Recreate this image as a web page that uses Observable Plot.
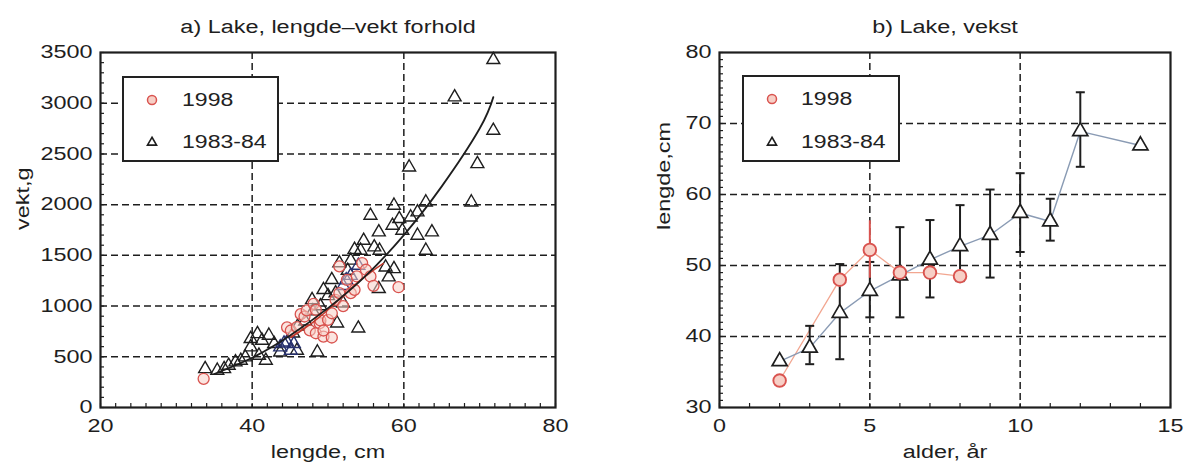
<!DOCTYPE html>
<html>
<head>
<meta charset="utf-8">
<script src="https://cdn.jsdelivr.net/npm/d3@7"></script>
<script src="https://cdn.jsdelivr.net/npm/@observablehq/plot@0.6"></script>
<style>
  body { margin: 0; background: #fff; }
  #wrap { position: relative; width: 1186px; height: 470px; font-family: "Liberation Sans", Arial, sans-serif; color: #222; overflow: hidden; }
  .panel { position: absolute; top: 0; }
  .legend { position: absolute; border: 2px solid #222; background: #fff; box-sizing: border-box; }
  .legend .row { position: absolute; left: 0; height: 24px; width: 100%; }
  .legend svg { position: absolute; top: 0; }
  .legend span { position: absolute; font-size: 18px; line-height: 24px; top: 0; transform: scaleX(1.28); transform-origin: left center; white-space: nowrap; }
</style>
</head>
<body>
<div id="wrap"></div>
<script>
// ---------- Panel a) length–weight ----------
const titleA = "a) Lake, lengde\u2013vekt forhold";
const xLabelA = "lengde, cm";
const yLabelA = "vekt,g";
const xTicksA = [20, 40, 60, 80];
const yTicksA = [0, 500, 1000, 1500, 2000, 2500, 3000, 3500];
const xGridA = [40, 60];
const yGridA = [500, 1000, 1500, 2000, 2500, 3000];

// 1998 (circles): length cm, weight g
const len98 = [33.6, 44.6, 45.1, 45.9, 46.4, 46.9, 47.2, 47.6, 48.1, 48.4, 48.4, 48.9, 49.0, 49.4, 49.4, 50.0, 50.5, 50.5, 51.0, 51.5, 51.5, 52.0, 52.5, 53.0, 53.5, 53.8, 54.5, 55.0, 55.6, 56.0, 59.3];
const wt98  = [283, 790, 759, 792, 920, 897, 957, 760, 1022, 962, 732, 831, 858, 699, 759, 864, 929, 690, 1061, 1127, 1391, 1000, 1259, 1127, 1160, 1292, 1424, 1358, 1292, 1200, 1186];

// 1983-84 (triangles, black)
const len8384 = [33.8, 35.4, 36.3, 36.9, 37.8, 38.5, 39.1, 39.8, 39.8, 40.7, 40.9, 41.3, 41.8, 42.2, 42.9, 43.7, 45.4, 45.9, 46.0, 47.0, 47.9, 48.0, 48.6, 49.0, 49.4, 50.0, 50.5, 51.0, 51.2, 51.5, 52.0, 52.6, 53.0, 53.5, 54.0, 54.3, 54.7, 55.6, 56.1, 56.7, 56.7, 56.8, 57.6, 58.0, 58.5, 58.7, 58.7, 59.4, 59.8, 60.7, 60.9, 61.8, 61.8, 62.9, 62.9, 63.7, 66.7, 68.9, 69.7, 71.8, 71.8];
const wt8384  = [381, 365, 381, 414, 447, 463, 496, 595, 677, 726, 513, 661, 463, 710, 628, 545, 732, 562, 800, 850, 1061, 950, 545, 1000, 1160, 1100, 1259, 1127, 831, 1424, 1028, 1350, 1450, 1556, 781, 1548, 1646, 1893, 1581, 1729, 1170, 1548, 1383, 1285, 1794, 1992, 1367, 1860, 1745, 2369, 1876, 1926, 1696, 2024, 1548, 1729, 3060, 2024, 2402, 2731, 3428];

// navy triangles in the dense cluster
const lenNavy = [43.7, 44.2, 44.6, 45.1, 45.5, 52.0, 52.4, 53.0, 54.0];
const wtNavy  = [595, 633, 644, 562, 628, 1200, 1256, 1300, 1400];

// fitted curves
const fitLen8384 = [35, 40, 45, 50, 55, 60, 65, 70, 71.8];
const fitWt8384  = [330, 490, 710, 980, 1300, 1700, 2180, 2750, 3060];
const fitLen98 = [45.1, 48, 51, 54, 57.3];
const fitWt98  = [690, 840, 1030, 1240, 1420];

// ---------- Panel b) growth ----------
const titleB = "b) Lake, vekst";
const xLabelB = "alder, \u00e5r";
const yLabelB = "lengde,cm";
const xTicksB = [0, 5, 10, 15];
const yTicksB = [30, 40, 50, 60, 70, 80];
const xGridB = [5, 10];
const yGridB = [40, 50, 60, 70];

const age98 = [2, 4, 5, 6, 7, 8];
const mean98 = [33.8, 48.0, 52.2, 49.0, 49.0, 48.5];
const lo98 = [null, null, 48.2, null, null, 47.6];
const hi98 = [null, null, 56.3, null, null, 49.4];

const age8384 = [2, 3, 4, 5, 6, 7, 8, 9, 10, 11, 12, 14];
const mean8384 = [36.5, 38.4, 43.3, 46.4, 48.6, 50.8, 52.7, 54.3, 57.4, 56.2, 68.9, 66.9];
const lo8384 = [null, 36.1, 36.8, 42.7, 42.7, 45.5, 47.8, 48.3, 51.9, 53.5, 63.9, null];
const hi8384 = [null, 41.5, 50.2, 50.5, 55.4, 56.4, 58.5, 60.7, 63.0, 59.4, 74.4, null];

const legendLabels = ["1998", "1983-84"];

// ---------- styling ----------
const INK = "#1e1e1e";
const RED = "#d9534f";
const PINK = "#f7cfc6";
const NAVY = "#26306e";
const FONT = "'Liberation Sans', Arial, sans-serif";
const STRETCH = 1.3;
const gridStyle = {stroke: INK, strokeOpacity: 1, strokeWidth: 1.5, strokeDasharray: "7,4"};
const capSymbol = {draw(ctx) { ctx.moveTo(-4.5, 0); ctx.lineTo(4.5, 0); }};
const fmt = d => String(d);

const zip = (xs, ys, kx, ky) => xs.map((v, i) => ({[kx]: v, [ky]: ys[i]}));
const pts98 = zip(len98, wt98, "L", "W");
const pts8384 = zip(len8384, wt8384, "L", "W");
const ptsNavy = zip(lenNavy, wtNavy, "L", "W");
const fit8384 = zip(fitLen8384, fitWt8384, "L", "W");
const fit98 = zip(fitLen98, fitWt98, "L", "W");

const g98 = age98.map((a, i) => ({age: a, m: mean98[i], lo: lo98[i], hi: hi98[i]}));
const g8384 = age8384.map((a, i) => ({age: a, m: mean8384[i], lo: lo8384[i], hi: hi8384[i]}));

function axes(xTicks, yTicks, xMinor, yMinor) {
  return [
    Plot.axisX(xMinor, {tickSize: 4, dy: -4, tickFormat: () => "", label: null, stroke: INK, strokeWidth: 1.2}),
    Plot.axisY(yMinor, {tickSize: 4, dx: 4, tickFormat: () => "", label: null, stroke: INK, strokeWidth: 1.2}),
    Plot.axisX(xTicks, {tickSize: 0, tickPadding: 12, tickFormat: fmt, label: null, fontSize: 18, fill: INK}),
    Plot.axisY(yTicks, {tickSize: 0, tickPadding: 8, tickFormat: fmt, label: null, fontSize: 18, fill: INK})
  ];
}

const left = Plot.plot({
  width: 593, height: 470,
  marginLeft: 100, marginRight: 38, marginTop: 52, marginBottom: 63,
  style: {fontFamily: FONT, fontSize: "18px", color: INK, background: "white", overflow: "visible"},
  x: {domain: [20, 80]},
  y: {domain: [0, 3500]},
  marks: [
    Plot.gridX(xGridA, gridStyle),
    Plot.gridY(yGridA, gridStyle),
    Plot.dot(pts8384, {x: "L", y: "W", symbol: "triangle", r: 4.8, stroke: INK, strokeWidth: 1.4, fill: "none"}),
    Plot.dot(ptsNavy, {x: "L", y: "W", symbol: "triangle", r: 4.8, stroke: NAVY, strokeWidth: 1.4, fill: "none"}),
    Plot.dot(pts98, {x: "L", y: "W", r: 5.5, stroke: RED, strokeWidth: 1.3, fill: PINK, fillOpacity: 0.55}),
    Plot.line(fit98, {x: "L", y: "W", curve: "natural", stroke: "#c0392b", strokeWidth: 1.5}),
    Plot.line(fit8384, {x: "L", y: "W", curve: "natural", stroke: INK, strokeWidth: 1.8}),
    Plot.frame({stroke: INK, strokeWidth: 2.2}),
    ...axes(xTicksA, yTicksA, d3.range(20, 81, 2), d3.range(0, 3501, 100)),
    Plot.text([titleA], {frameAnchor: "top", dy: -32, fontSize: 18, fill: INK, text: d => d}),
    Plot.text([xLabelA], {frameAnchor: "bottom", dy: 50, fontSize: 18, fill: INK, text: d => d}),
    Plot.text([yLabelA], {frameAnchor: "left", dx: -77, rotate: -90, fontSize: 18, fill: INK, text: d => d})
  ]
});

const right = Plot.plot({
  width: 593, height: 470,
  marginLeft: 126, marginRight: 16, marginTop: 52, marginBottom: 63,
  style: {fontFamily: FONT, fontSize: "18px", color: INK, background: "white", overflow: "visible"},
  x: {domain: [0, 15]},
  y: {domain: [30, 80]},
  marks: [
    Plot.gridX(xGridB, gridStyle),
    Plot.gridY(yGridB, gridStyle),
    Plot.line(g98, {x: "age", y: "m", stroke: "#f2a690", strokeWidth: 1.3}),
    Plot.line(g8384, {x: "age", y: "m", stroke: "#8a9bb4", strokeWidth: 1.4}),
    Plot.ruleX(g8384.filter(d => d.lo != null), {x: "age", y1: "lo", y2: "hi", stroke: INK, strokeWidth: 2}),
    Plot.dot(g8384.filter(d => d.lo != null), {x: "age", y: "lo", symbol: capSymbol, stroke: INK, strokeWidth: 2}),
    Plot.dot(g8384.filter(d => d.hi != null), {x: "age", y: "hi", symbol: capSymbol, stroke: INK, strokeWidth: 2}),
    Plot.ruleX(g98.filter(d => d.lo != null), {x: "age", y1: "lo", y2: "hi", stroke: RED, strokeWidth: 2}),
    Plot.dot(g8384, {x: "age", y: "m", symbol: "triangle", r: 5.6, stroke: INK, strokeWidth: 1.7, fill: "white"}),
    Plot.dot(g98, {x: "age", y: "m", r: 6.3, stroke: RED, strokeWidth: 1.9, fill: PINK}),
    Plot.frame({stroke: INK, strokeWidth: 2.2}),
    ...axes(xTicksB, yTicksB, d3.range(0, 15.01, 1), d3.range(30, 80.01, 1)),
    Plot.text([titleB], {frameAnchor: "top", dy: -32, fontSize: 18, fill: INK, text: d => d}),
    Plot.text([xLabelB], {frameAnchor: "bottom", dy: 50, fontSize: 18, fill: INK, text: d => d}),
    Plot.text([yLabelB], {frameAnchor: "left", dx: -55, rotate: -90, fontSize: 18, fill: INK, text: d => d})
  ]
});

const wrap = document.getElementById("wrap");
left.classList.add("panel"); left.style.left = "0px";
right.classList.add("panel"); right.style.left = "593px";
wrap.appendChild(left);
wrap.appendChild(right);

// widen the lettering like the scanned original
for (const svg of [left, right]) {
  svg.querySelectorAll("text").forEach(t => {
    const s = (t.textContent || "").trim();
    if (!s) return;
    const w = t.getComputedTextLength();
    if (w > 0) {
      t.setAttribute("textLength", (w * STRETCH).toFixed(1));
      t.setAttribute("lengthAdjust", "spacingAndGlyphs");
    }
  });
}

function legend(x, y, w, h, symX, textX, rowYs) {
  const box = document.createElement("div");
  box.className = "legend";
  Object.assign(box.style, {left: x + "px", top: y + "px", width: w + "px", height: h + "px"});
  const symbols = [
    `<circle cx="12" cy="12" r="4.5" fill="${PINK}" stroke="${RED}" stroke-width="1.5"/>`,
    `<path d="${d3.symbol(d3.symbolTriangle, 36)()}" transform="translate(12,12.5)" fill="none" stroke="${INK}" stroke-width="1.6"/>`
  ];
  legendLabels.forEach((lab, i) => {
    const row = document.createElement("div");
    row.className = "row";
    row.style.top = (rowYs[i] - 12) + "px";
    row.innerHTML = `<svg width="24" height="24" style="left:${symX - 12}px">${symbols[i]}</svg><span style="left:${textX}px">${lab}</span>`;
    box.appendChild(row);
  });
  wrap.appendChild(box);
}
legend(122, 76, 157, 86, 28, 58, [22, 64]);
legend(742, 75, 158, 87, 28, 57, [22, 65]);
</script>
</body>
</html>
